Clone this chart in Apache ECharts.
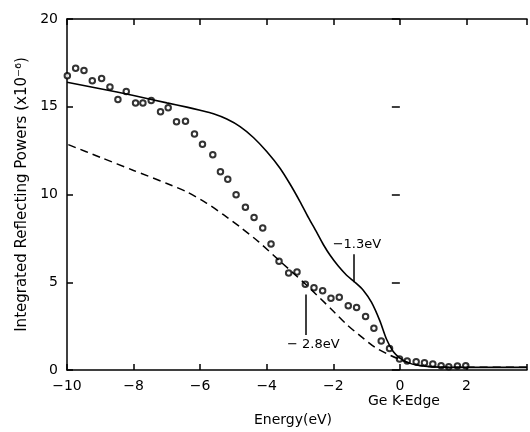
<!DOCTYPE html>
<html>
<head>
<meta charset="utf-8">
<script src="https://cdn.jsdelivr.net/npm/echarts@6/dist/echarts.min.js"></script>
<style>
  html, body { margin: 0; padding: 0; background: #fff; }
  #chart { width: 530px; height: 432px; }
</style>
</head>
<body>
<div id="chart"></div>
<script>
// 实测数据（圆圈）
const measured = [
  [-9.99, 16.76], [-9.74, 17.2], [-9.49, 17.06], [-9.24, 16.48], [-8.96, 16.61],
  [-8.71, 16.12], [-8.47, 15.41], [-8.22, 15.87], [-7.94, 15.21], [-7.72, 15.21],
  [-7.47, 15.36], [-7.19, 14.72], [-6.96, 14.95], [-6.71, 14.15], [-6.44, 14.17],
  [-6.17, 13.45], [-5.93, 12.86], [-5.62, 12.27], [-5.39, 11.3], [-5.17, 10.87],
  [-4.92, 9.98], [-4.64, 9.28], [-4.38, 8.69], [-4.12, 8.09], [-3.87, 7.18],
  [-3.63, 6.19], [-3.34, 5.53], [-3.09, 5.59], [-2.84, 4.89], [-2.58, 4.68],
  [-2.32, 4.51], [-2.07, 4.09], [-1.82, 4.14], [-1.55, 3.66], [-1.30, 3.56],
  [-1.03, 3.05], [-0.78, 2.38], [-0.56, 1.65], [-0.31, 1.23], [-0.01, 0.63],
  [0.22, 0.51], [0.49, 0.47], [0.74, 0.41], [0.99, 0.34], [1.24, 0.24],
  [1.47, 0.19], [1.73, 0.23], [1.98, 0.24]
];
// 计算曲线（实线）
const calcSolid = [
  [-10, 16.4], [-9, 16.03], [-8, 15.64], [-7, 15.22], [-6.4, 14.98], [-6, 14.8],
  [-5.6, 14.6], [-5.2, 14.3], [-4.8, 13.87], [-4.4, 13.25], [-4.0, 12.45],
  [-3.6, 11.5], [-3.3, 10.6], [-3.0, 9.6], [-2.75, 8.7], [-2.5, 7.85],
  [-2.3, 7.15], [-2.1, 6.55], [-1.85, 5.92], [-1.6, 5.4], [-1.35, 5.0],
  [-1.1, 4.55], [-0.85, 3.85], [-0.6, 2.8], [-0.4, 1.75], [-0.2, 1.05],
  [0, 0.68], [0.25, 0.42], [0.5, 0.28], [1, 0.18], [2, 0.15], [3, 0.15], [3.82, 0.15]
];
// 计算曲线（虚线）
const calcDashed = [
  [-9.96, 12.84], [-9, 12.12], [-8, 11.37], [-7, 10.63], [-6.4, 10.15],
  [-5.8, 9.5], [-5.3, 8.85], [-4.8, 8.15], [-4.24, 7.3], [-3.63, 6.25],
  [-2.84, 4.9], [-2.05, 3.45], [-1.6, 2.6], [-1.16, 1.9], [-0.75, 1.3],
  [-0.36, 0.9], [0, 0.6], [0.34, 0.36], [0.7, 0.22], [1.2, 0.16], [2, 0.15], [3.82, 0.15]
];
const xTicks = [-10, -8, -6, -4, -2, 0, 2];
const yTicks = [0, 5, 10, 15, 20];

const font = '"DejaVu Sans", sans-serif';
const chart = echarts.init(document.getElementById('chart'));

const axisLine = { show: true, onZero: false, lineStyle: { color: '#000', width: 1.5 } };
const axisTick = { show: true, inside: true, length: 6, lineStyle: { color: '#000', width: 1.5 } };

chart.setOption({
  animation: false,
  grid: { left: 67, right: 0, top: 19, bottom: 61 },
  xAxis: [{
    type: 'value', min: -10, max: 3.82, interval: 2,
    axisLine: axisLine, axisTick: axisTick, splitLine: { show: false },
    axisLabel: {
      color: '#000', fontSize: 14, fontFamily: font, margin: 9,
      formatter: v => xTicks.indexOf(v) >= 0 ? String(v).replace('-', '\u2212') : ''
    },
    name: 'Energy(eV)', nameLocation: 'middle', nameGap: 43,
    nameTextStyle: { color: '#000', fontSize: 14, fontFamily: font, padding: [0, 8, 0, 0] }
  }, {
    type: 'value', position: 'top', min: -10, max: 3.82, interval: 2,
    axisLine: axisLine, axisTick: axisTick, axisLabel: { show: false }, splitLine: { show: false }
  }],
  yAxis: [{
    type: 'value', min: 0, max: 20, interval: 5,
    axisLine: axisLine, axisTick: axisTick, splitLine: { show: false },
    axisLabel: {
      color: '#000', fontSize: 14, fontFamily: font, margin: 9,
      formatter: v => yTicks.indexOf(v) >= 0 ? String(v) : ''
    },
    name: 'Integrated Reflecting Powers (x10\u207B\u2076)', nameLocation: 'middle', nameGap: 36,
    nameTextStyle: { color: '#000', fontSize: 15, fontFamily: font }
  }, {
    type: 'value', position: 'right', min: 0, max: 20, interval: 5,
    axisLine: { show: false }, axisTick: { show: true, inside: true, length: 8, lineStyle: { color: '#000', width: 1.5 } },
    axisLabel: { show: false }, splitLine: { show: false }
  }],
  graphic: [{
    type: 'text', left: 368, top: 394,
    style: { text: 'Ge K-Edge', fill: '#000', font: '14px ' + font }
  }],
  series: [{
    type: 'line', data: calcSolid, smooth: 0.25, showSymbol: false,
    lineStyle: { color: '#000', width: 1.6 },
    markLine: {
      silent: true, symbol: 'none',
      lineStyle: { color: '#000', width: 1.5, type: 'solid' },
      label: { color: '#000', fontSize: 13, fontFamily: font, position: 'end', distance: 3 },
      data: [[
        { coord: [-1.38, 5.0] },
        { coord: [-1.38, 6.6], label: { formatter: '\u22121.3eV', offset: [3, 0] } }
      ]]
    }
  }, {
    type: 'line', data: calcDashed, smooth: 0.25, showSymbol: false,
    lineStyle: { color: '#000', width: 1.5, type: [8, 5] },
    markLine: {
      silent: true, symbol: 'none',
      lineStyle: { color: '#000', width: 1.5, type: 'solid' },
      label: { color: '#000', fontSize: 13, fontFamily: font, position: 'end', distance: 3 },
      data: [[
        { coord: [-2.84, 4.3] },
        { coord: [-2.84, 2.0], label: { formatter: '\u2212 2.8eV', offset: [8, 0] } }
      ]]
    }
  }, {
    type: 'scatter', data: measured, symbol: 'emptyCircle', symbolSize: 5.5,
    itemStyle: { color: '#000', borderColor: '#000', borderWidth: 1.2 }
  }]
});
</script>
</body>
</html>
